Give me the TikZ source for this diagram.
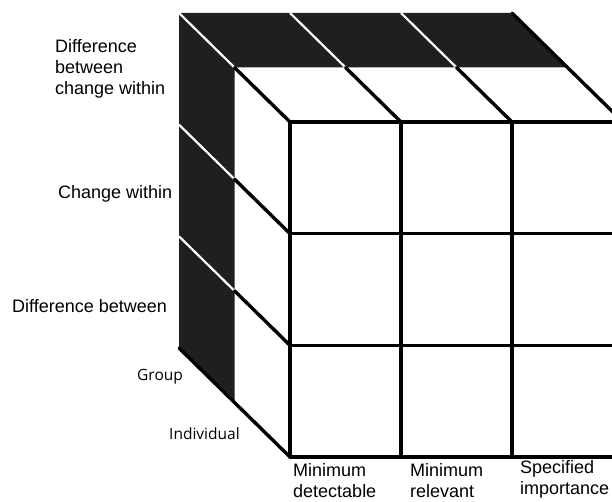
\documentclass[tikz,border=0pt]{standalone}
\usepackage{fontspec}
\setmainfont{Liberation Sans}
\newfontfamily\levelfont{Open Sans}
\usetikzlibrary{calc}

\begin{document}
\begin{tikzpicture}
	[
	x=1pt, y=-1pt,
	edge/.style = {draw=black, line width=3.4pt, line cap=round},
	gap/.style = {draw=white, line width=2.2pt},
	shade/.style = {fill=black!88},
	axislab/.style = {anchor=base west, inner sep=0pt, align=left, font=\fontsize{18}{21}\selectfont},
	levellab/.style = {anchor=base west, inner sep=0pt, font=\levelfont\fontsize{15.5}{18}\selectfont}
	]
	\useasboundingbox (0,0) rectangle (612,502);
	\clip (0,0) rectangle (612,502);

	% corners: back (b), middle (m), front (f)
	\coordinate (b1) at (179,13);
	\coordinate (b2) at (512,13);
	\coordinate (b3) at (179,348);
	\coordinate (m1) at (234.5,67.5);
	\coordinate (m2) at (567.5,67.5);
	\coordinate (m3) at (234.5,402.5);
	\coordinate (f1) at (290,122);
	\coordinate (f2) at (623,122);
	\coordinate (f3) at (290,457);

	% dark back halves of top and left faces
	\fill[shade] (b1) -- (b2) -- (m2) -- (m1) -- cycle;
	\fill[shade] (b1) -- (m1) -- (m3) -- (b3) -- cycle;

	% column and row edges: white over the dark part, black in front
	\foreach \i in {1,2} {
		\draw[gap] ({179+111*\i},13) -- ({234.5+111*\i},67.5);
		\draw[edge] ({234.5+111*\i},67.5) -- ({290+111*\i},122);
	}
	\foreach \j in {1,2} {
		\draw[gap] (179,{13+111.67*\j}) -- (234.5,{67.5+111.67*\j});
		\draw[edge] (234.5,{67.5+111.67*\j}) -- (290,{122+111.67*\j});
	}
	\draw[gap] (b1) -- (m1);
	\draw[edge] (m1) -- (f1);
	\draw[edge] (b2) -- (f2);
	\draw[edge] (b3) -- (f3);

	% front face
	\foreach \i in {0,...,3}
		\draw[edge] ({290+111*\i},122) -- ({290+111*\i},457);
	\foreach \j in {0,...,3}
		\draw[edge] (290,{122+111.67*\j}) -- (623,{122+111.67*\j});

	\node[axislab] (betweenchange) at (55,95) {Difference\\between\\change within};
	\node[axislab] (within) at (58,199) {Change within};
	\node[axislab] (between) at (12,312) {Difference between};

	\node[levellab] (group) at (137,380) {Group};
	\node[levellab] (individual) at (169,439) {Individual};

	\node[axislab] (detectable) at (293,497) {Minimum\\detectable};
	\node[axislab] (relevant) at (410,497) {Minimum\\relevant};
	\node[axislab] (specified) at (520,494) {Specified\\importance};

\end{tikzpicture}
\end{document}
